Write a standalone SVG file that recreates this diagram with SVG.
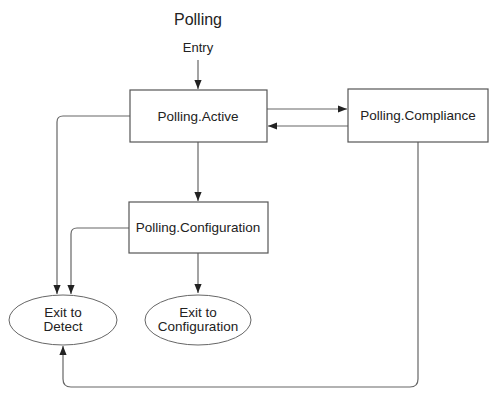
<svg xmlns="http://www.w3.org/2000/svg" width="500" height="400" viewBox="0 0 500 400">
<defs>
<style>
.box{fill:#fff;stroke:#555;stroke-width:1.2}
.ell{fill:#fff;stroke:#666;stroke-width:1}
.t{font-family:"Liberation Sans",Arial,sans-serif;font-size:13.5px;fill:#222;text-anchor:middle}
.c{fill:none;stroke:#666;stroke-width:1.2}
</style>
<marker id="ah" viewBox="0 0 10 10" refX="10" refY="5" markerWidth="9" markerHeight="9" markerUnits="userSpaceOnUse" orient="auto">
<path d="M0,1 L10,5 L0,9 z" fill="#222"/>
</marker>
</defs>
<rect width="500" height="400" fill="#fff"/>
<text x="198" y="25" class="t" style="font-size:16px">Polling</text>
<text x="198" y="52" class="t" style="font-size:13px">Entry</text>
<g id="connectors">
<path class="c" d="M198,60 L198,89" marker-end="url(#ah)"/>
<path class="c" d="M267,109 L347,109" marker-end="url(#ah)"/>
<path class="c" d="M348,126 L268,126" marker-end="url(#ah)"/>
<path class="c" d="M198,142 L198,201" marker-end="url(#ah)"/>
<path class="c" d="M198,253 L198,293" marker-end="url(#ah)"/>
<path class="c" d="M130,116 L63,116 Q57,116 57,122 L57,294" marker-end="url(#ah)"/>
<path class="c" d="M129,228 L77,228 Q71,228 71,234 L71,294" marker-end="url(#ah)"/>
<path class="c" d="M418,142 L418,379 Q418,387 410,387 L71,387 Q63,387 63,379 L63,346" marker-end="url(#ah)"/>
</g>
<g id="active">
<rect class="box" x="130" y="90" width="137" height="52"/>
<text x="198" y="121" class="t">Polling.Active</text>
</g>
<g id="compliance">
<rect class="box" x="348" y="89" width="140" height="53"/>
<text x="418" y="120" class="t">Polling.Compliance</text>
</g>
<g id="configuration">
<rect class="box" x="129" y="202" width="139" height="51"/>
<text x="198" y="232" class="t">Polling.Configuration</text>
</g>
<g id="exitDetect">
<ellipse class="ell" cx="63" cy="320" rx="54" ry="25"/>
<text x="63" y="317" class="t">Exit to</text>
<text x="63" y="331" class="t">Detect</text>
</g>
<g id="exitConfig">
<ellipse class="ell" cx="198" cy="320" rx="53" ry="25"/>
<text x="198" y="317" class="t">Exit to</text>
<text x="198" y="331" class="t">Configuration</text>
</g>
</svg>
